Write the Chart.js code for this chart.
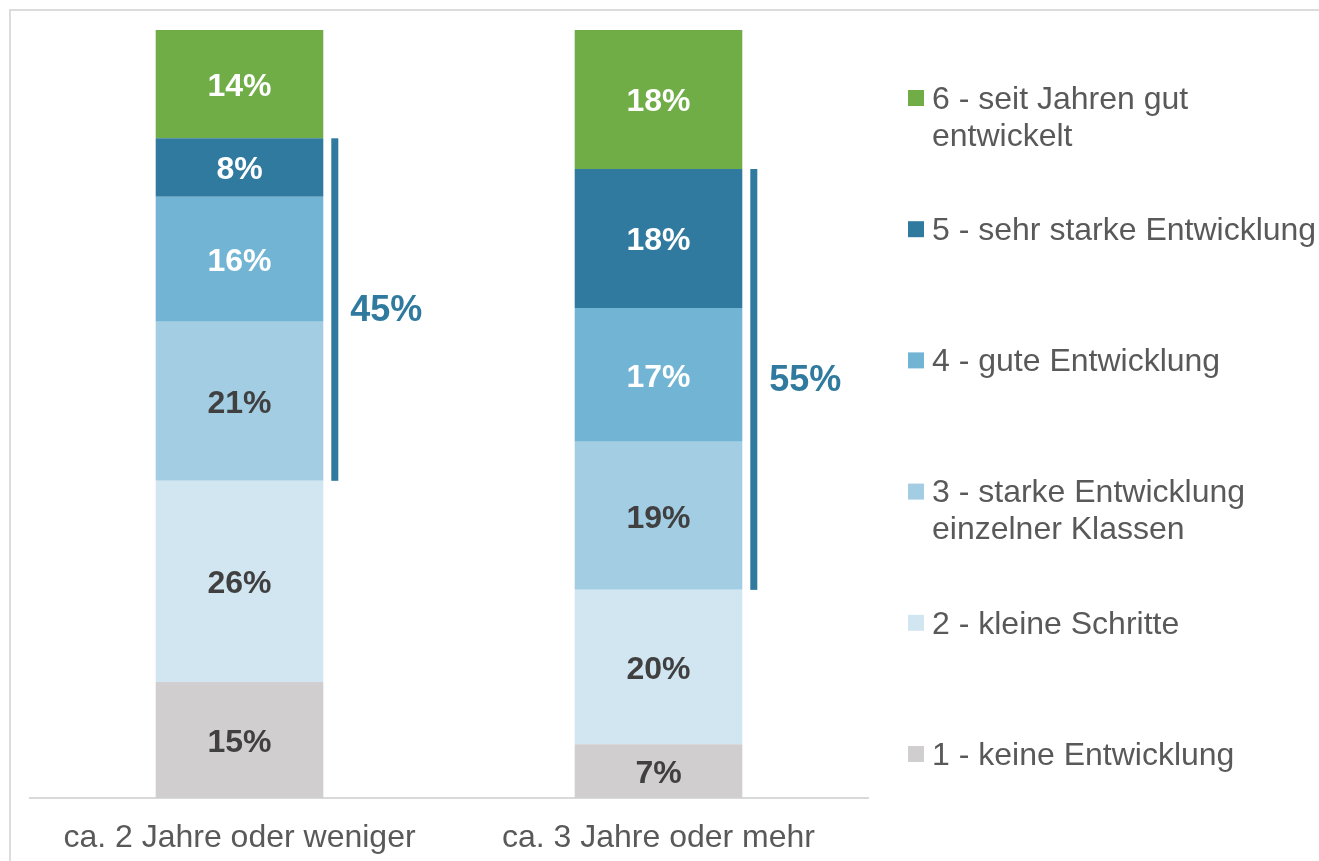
<!DOCTYPE html>
<html>
<head>
<meta charset="utf-8">
<script src="https://cdn.jsdelivr.net/npm/chart.js@4"></script>
<style>
  html, body { margin: 0; padding: 0; background: #fff; overflow: hidden; }
  #wrap { position: relative; width: 1319px; height: 861px; }
  #frame { position: absolute; left: 9px; top: 9px; width: 1400px; height: 900px; border: 2px solid #dcdcdc; box-sizing: border-box; }
  canvas { position: absolute; left: 0; top: 0; }
</style>
</head>
<body>
<div id="wrap">
  <div id="frame"></div>
  <canvas id="c" width="1319" height="861"></canvas>
</div>
<script>
// ---- data ----
const categories = ["ca. 2 Jahre oder weniger", "ca. 3 Jahre oder mehr"];
const seriesNames = [
  ["1 - keine Entwicklung"],
  ["2 - kleine Schritte"],
  ["3 - starke Entwicklung", "einzelner Klassen"],
  ["4 - gute Entwicklung"],
  ["5 - sehr starke Entwicklung"],
  ["6 - seit Jahren gut", "entwickelt"]
];
const s1 = [15.1, 7.0];
const s2 = [26.2, 20.1];
const s3 = [20.7, 19.3];
const s4 = [16.3, 17.4];
const s5 = [7.6, 18.1];
const s6 = [14.1, 18.1];
const l1 = ["15%", "7%"];
const l2 = ["26%", "20%"];
const l3 = ["21%", "19%"];
const l4 = ["16%", "17%"];
const l5 = ["8%", "18%"];
const l6 = ["14%", "18%"];
const bracketLabels = ["45%", "55%"];   // share of series 3..5
const bracketFrom = 2, bracketTo = 4;   // dataset indices covered

const colors = ["#d0cecf", "#d1e6f1", "#a2cde3", "#72b4d4", "#2f7a9e", "#70ad47"];
const labelColors = ["#404040", "#404040", "#404040", "#ffffff", "#ffffff", "#ffffff"];
const seriesValues = [s1, s2, s3, s4, s5, s6];
const seriesLabels = [l1, l2, l3, l4, l5, l6];

const FONT = "'Liberation Sans', Arial, sans-serif";

const datasets = seriesValues.map((v, i) => ({
  label: seriesNames[i].join(" "),
  data: v,
  backgroundColor: colors[i],
  borderWidth: 0,
  categoryPercentage: 1.0,
  barPercentage: 0.4
}));

const labelPlugin = {
  id: "segLabels",
  afterDatasetsDraw(chart) {
    const ctx = chart.ctx;
    ctx.save();
    ctx.textAlign = "center";
    ctx.textBaseline = "middle";
    chart.data.datasets.forEach((ds, i) => {
      const meta = chart.getDatasetMeta(i);
      meta.data.forEach((bar, j) => {
        const p = bar.getProps(["x", "y", "base"], true);
        ctx.font = "bold 32px " + FONT;
        ctx.fillStyle = labelColors[i];
        ctx.fillText(seriesLabels[i][j], p.x, (p.y + p.base) / 2 + 3);
      });
    });
    // brackets
    categories.forEach((c, j) => {
      const low = chart.getDatasetMeta(bracketFrom).data[j].getProps(["base", "x", "width"], true);
      const high = chart.getDatasetMeta(bracketTo).data[j].getProps(["y"], true);
      const x0 = low.x + low.width / 2 + 8;
      ctx.fillStyle = "#2f7a9e";
      ctx.fillRect(x0, high.y, 7, low.base - high.y);
      ctx.font = "bold 36px " + FONT;
      ctx.textAlign = "left";
      ctx.fillText(bracketLabels[j], x0 + 19, (high.y + low.base) / 2 + 2);
      ctx.textAlign = "center";
    });
    ctx.restore();
  }
};

const legendPlugin = {
  id: "sideLegend",
  afterDraw(chart) {
    const ctx = chart.ctx;
    const a = chart.chartArea;
    ctx.save();
    ctx.font = "32px " + FONT;
    ctx.textBaseline = "middle";
    ctx.textAlign = "left";
    const n = seriesNames.length;
    for (let k = 0; k < n; k++) {
      const i = n - 1 - k;
      const cy = a.top + 68 + k * 131.2;
      const sx = a.right + 40;
      ctx.fillStyle = colors[i];
      ctx.fillRect(sx, cy - 8, 16, 16);
      ctx.fillStyle = "#595959";
      seriesNames[i].forEach((line, li) => {
        ctx.fillText(line, sx + 24, cy + li * 37 + 2);
      });
    }
    ctx.restore();
  }
};

new Chart(document.getElementById("c"), {
  type: "bar",
  data: { labels: categories, datasets },
  plugins: [labelPlugin, legendPlugin],
  options: {
    responsive: false,
    animation: false,
    layout: { padding: { left: 30, right: 451, top: 30, bottom: 0 } },
    plugins: { legend: { display: false }, tooltip: { enabled: false } },
    scales: {
      x: {
        stacked: true,
        grid: { display: false, drawTicks: false },
        border: { display: true, color: "#d9d9d9", width: 2 },
        ticks: { color: "#595959", font: { family: FONT, size: 32 }, padding: 21, maxRotation: 0, autoSkip: false },
        afterFit(scale) { scale.height = 63; }
      },
      y: {
        stacked: true,
        display: false,
        min: 0,
        max: 100
      }
    }
  }
});
</script>
</body>
</html>
